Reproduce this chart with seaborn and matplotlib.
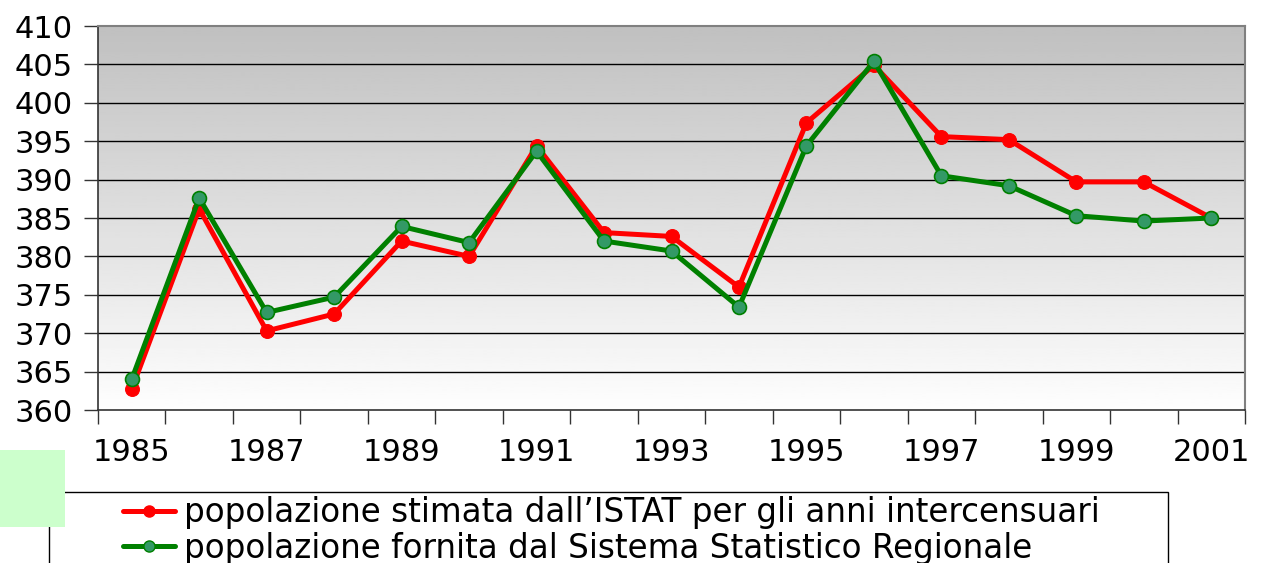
import numpy as np
import pandas as pd
import seaborn as sns
import matplotlib.pyplot as plt
from matplotlib.patches import Rectangle
from matplotlib.lines import Line2D

years = [str(y) for y in range(1985, 2002)]
istat = [362.7, 386.2, 370.3, 372.5, 382.0, 380.0, 394.4, 383.1, 382.6,
         376.0, 397.4, 404.9, 395.6, 395.2, 389.7, 389.7, 385.0]
regionale = [364.0, 387.6, 372.7, 374.7, 383.9, 381.8, 393.7, 382.0, 380.7,
             373.4, 394.4, 405.4, 390.5, 389.2, 385.3, 384.6, 385.0]
label_istat = "popolazione stimata dall\u2019ISTAT per gli anni intercensuari"
label_reg = "popolazione fornita dal Sistema Statistico Regionale"

sns.set_style("white")
plt.rcParams['font.family'] = ['DejaVu Sans']
plt.rcParams['text.color'] = 'black'
plt.rcParams['xtick.labelcolor'] = 'black'
plt.rcParams['ytick.labelcolor'] = 'black'
FS = 22

W, H = 1263, 563
fig = plt.figure(figsize=(W / 100, H / 100), dpi=100)
ax = fig.add_axes([98 / W, 1 - 410 / H, (1245 - 98) / W, (410 - 26) / H])

df = pd.DataFrame({'pos': np.arange(len(years)), 'istat': istat, 'reg': regionale})

# gradient background, grey at top to white at bottom
grad = np.linspace(0.753, 0.995, 256).reshape(-1, 1)
ax.imshow(grad, cmap='gray', vmin=0, vmax=1, extent=[0, 1, 0, 1], transform=ax.transAxes,
          aspect='auto', zorder=0, origin='upper')

for v in range(365, 410, 5):
    ax.axhline(v, color='black', lw=1.0, zorder=1)

sns.lineplot(data=df, x='pos', y='istat', ax=ax, color='#ff0000', lw=3.6, marker='o',
             markersize=10, markerfacecolor='#ff0000', markeredgecolor='#ff0000', zorder=3)
sns.lineplot(data=df, x='pos', y='reg', ax=ax, color='#008000', lw=3.6, marker='o',
             markersize=10, markerfacecolor='#339966', markeredgecolor='#008000',
             markeredgewidth=1.2, zorder=4)

ax.set_xlim(-0.5, len(years) - 0.5)
ax.set_ylim(360, 410)
ax.set_yticks(range(360, 411, 5))
ax.set_xticks(np.arange(-0.5, len(years), 1.0))
ax.set_xticklabels([])
ax.set_xticks(np.arange(0, len(years), 2), minor=True)
ax.set_xticklabels(years[::2], minor=True)
ax.tick_params(axis='x', which='minor', bottom=True, length=0, pad=20, labelsize=FS)
ax.tick_params(axis='x', which='major', bottom=True, length=10, width=1, color='#333333',
               direction='out')
ax.tick_params(axis='y', left=True, length=10, width=1, color='#333333', direction='out',
               pad=8, labelsize=FS)
ax.set_xlabel('')
ax.set_ylabel('')
for s in ['top', 'right']:
    ax.spines[s].set_color('#808080')
    ax.spines[s].set_linewidth(1.5)
for s in ['left', 'bottom']:
    ax.spines[s].set_color('#333333')
    ax.spines[s].set_linewidth(1.2)

# decorations
fig.patches.append(Rectangle((0, 1 - 527 / H), 65 / W, 77 / H, transform=fig.transFigure,
                             facecolor='#ccffcc', edgecolor='none', zorder=2))
fig.patches.append(Rectangle((49 / W, -0.05), (1168 - 49) / W, 0.05 + 1 - 492 / H,
                             transform=fig.transFigure, facecolor='none',
                             edgecolor='black', lw=1.0, zorder=1))

handles = [Line2D([], [], color='#ff0000', lw=3.6, marker='o', markersize=8,
                  markerfacecolor='#ff0000', markeredgecolor='#ff0000'),
           Line2D([], [], color='#008000', lw=3.6, marker='o', markersize=8,
                  markerfacecolor='#339966', markeredgecolor='#008000')]
fig.legend(handles, [label_istat, label_reg], loc='upper left',
           bbox_to_anchor=(123 / W, 1 - 496 / H), frameon=False, fontsize=23.5,
           handlelength=1.6, handletextpad=0.28, labelspacing=0.08, borderpad=0.0,
           borderaxespad=0.0)

fig.savefig('out.png', dpi=100)
